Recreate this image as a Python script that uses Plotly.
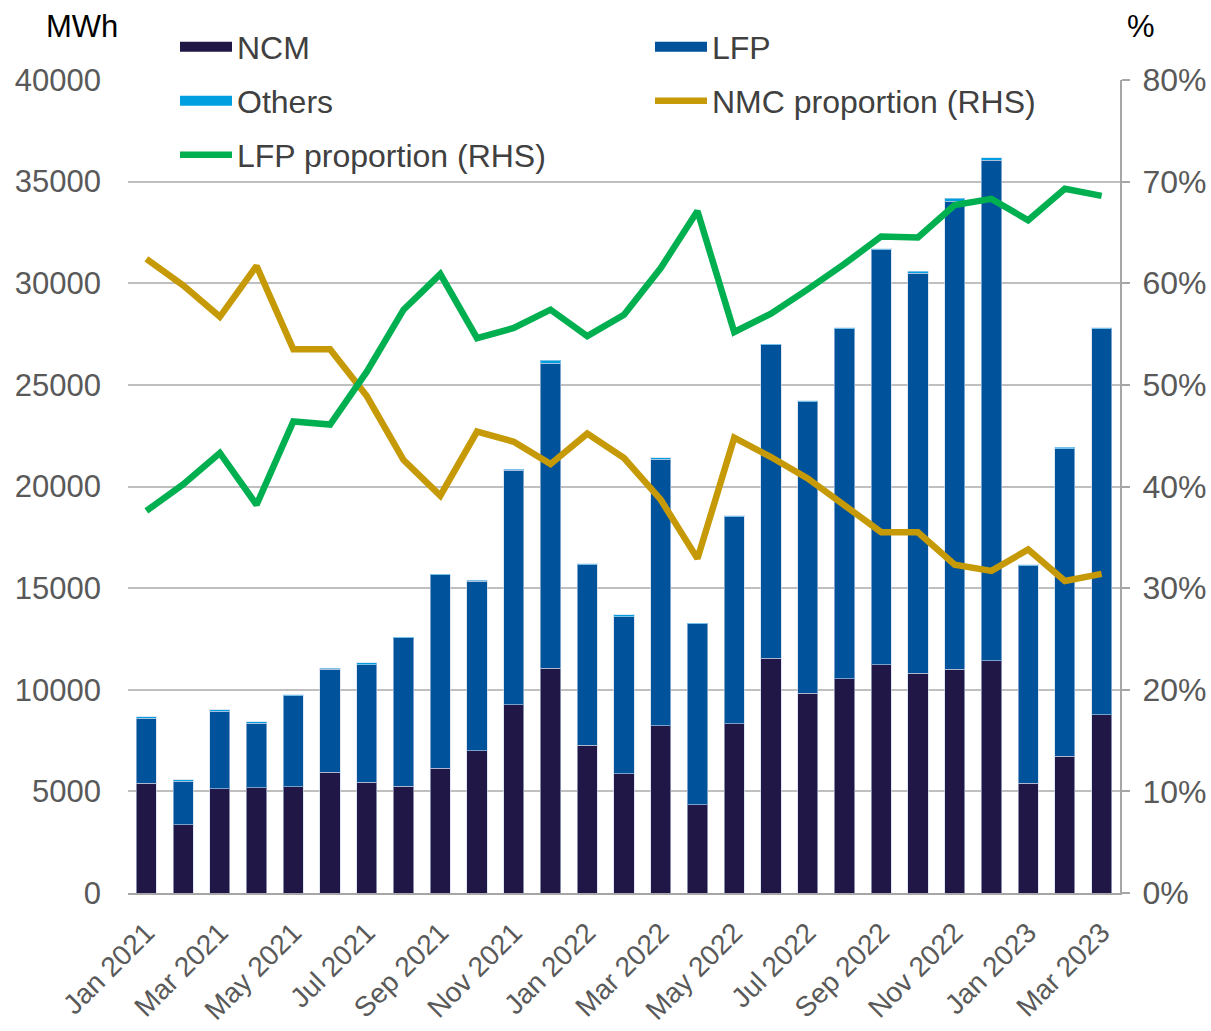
import plotly.graph_objects as go

months = ["Jan 2021", "Feb 2021", "Mar 2021", "Apr 2021", "May 2021", "Jun 2021",
          "Jul 2021", "Aug 2021", "Sep 2021", "Oct 2021", "Nov 2021", "Dec 2021",
          "Jan 2022", "Feb 2022", "Mar 2022", "Apr 2022", "May 2022", "Jun 2022",
          "Jul 2022", "Aug 2022", "Sep 2022", "Oct 2022", "Nov 2022", "Dec 2022",
          "Jan 2023", "Feb 2023", "Mar 2023"]
ncm = [5410, 3350, 5120, 5170, 5220, 5950, 5460, 5260, 6150, 6990, 9250, 11070,
       7280, 5860, 8220, 4330, 8320, 11560, 9840, 10530, 11220, 10820, 11020, 11420,
       5410, 6740, 8760]
lfp = [3200, 2160, 3830, 3170, 4490, 5060, 5780, 7290, 9500, 8360, 11560, 15000,
       8870, 7720, 13130, 8920, 10190, 15410, 14330, 17230, 20430, 19660, 23020, 24630,
       10690, 15120, 19000]
others = [50, 50, 60, 80, 40, 60, 80, 40, 40, 50, 50, 150,
          40, 100, 60, 30, 40, 40, 40, 40, 40, 120, 150, 120,
          40, 80, 40]
nmc_share = [62.4, 59.8, 56.7, 61.7, 53.5, 53.5, 48.9, 42.6, 39.1, 45.4, 44.4, 42.2,
             45.2, 42.8, 38.7, 32.9, 44.8, 42.9, 40.8, 38.2, 35.5, 35.5, 32.3, 31.7,
             33.8, 30.7, 31.4]
lfp_share = [37.6, 40.2, 43.3, 38.2, 46.4, 46.1, 51.3, 57.4, 60.9, 54.6, 55.6, 57.4,
             54.8, 56.9, 61.5, 67.1, 55.2, 57.0, 59.4, 61.9, 64.6, 64.5, 67.7, 68.3,
             66.2, 69.3, 68.6]
left_ticks = [0, 5000, 10000, 15000, 20000, 25000, 30000, 35000, 40000]
right_ticks = [0, 10, 20, 30, 40, 50, 60, 70, 80]

C_NCM = "#201747"
C_LFP = "#00529B"
C_OTH = "#009FDF"
C_NMCP = "#C59A06"
C_LFPP = "#00B050"
FONT = "Liberation Sans, Arial, sans-serif"
TXT = "#595959"

fig = go.Figure()
bar_line = dict(width=1, color="rgba(200,215,235,0.6)")
fig.add_trace(go.Bar(x=months, y=ncm, name="NCM", marker=dict(color=C_NCM, line=bar_line), showlegend=False))
fig.add_trace(go.Bar(x=months, y=lfp, name="LFP", marker=dict(color=C_LFP, line=bar_line), showlegend=False))
fig.add_trace(go.Bar(x=months, y=others, name="Others", marker=dict(color=C_OTH, line=bar_line), showlegend=False))
fig.add_trace(go.Scatter(x=months, y=nmc_share, name="NMC proportion (RHS)", mode="lines",
                         line=dict(color=C_NMCP, width=6.5), yaxis="y2", showlegend=False))
fig.add_trace(go.Scatter(x=months, y=lfp_share, name="LFP proportion (RHS)", mode="lines",
                         line=dict(color=C_LFPP, width=6.5), yaxis="y2", showlegend=False))

# legend entries, one legend box per entry (2 columns x 3 rows)
def leg(name, color, width, legend):
    fig.add_trace(go.Scatter(x=[None], y=[None], name=name, mode="lines",
                             line=dict(color=color, width=width), legend=legend,
                             showlegend=True, hoverinfo="skip"))

leg("NCM", C_NCM, 17, "legend")
leg("LFP", C_LFP, 17, "legend2")
leg("Others", C_OTH, 17, "legend3")
leg("NMC proportion (RHS)", C_NMCP, 6.5, "legend4")
leg("LFP proportion (RHS)", C_LFPP, 6.5, "legend5")

def legbox(px, py):
    return dict(xref="container", yref="container", x=px / 1211, y=1 - py / 1031,
                xanchor="left", yanchor="middle", orientation="v",
                font=dict(family=FONT, size=32, color="#404040"),
                bgcolor="rgba(0,0,0,0)", itemwidth=52)

col1, col2 = 175, 650
fig.update_layout(
    width=1211, height=1031,
    margin=dict(l=128, r=91, t=80, b=138, autoexpand=False),
    paper_bgcolor="white", plot_bgcolor="white",
    barmode="stack", bargap=0.45,
    font=dict(family=FONT, size=31, color=TXT),
    legend=legbox(col1, 47),
    legend2=legbox(col2, 47),
    legend3=legbox(col1, 101),
    legend4=legbox(col2, 101),
    legend5=legbox(col1, 155),
    xaxis=dict(type="category", tickmode="array", tickvals=months[::2], ticktext=months[::2],
               tickangle=-45, tickfont=dict(size=28, color=TXT), showgrid=False,
               showline=True, linecolor="#A6A6A6", linewidth=2, ticks="", zeroline=False,
               ticklabelstandoff=10),
    yaxis=dict(range=[0, 40000], tickvals=left_ticks, ticktext=[str(v) for v in left_ticks],
               showgrid=True, gridcolor="#BFBFBF", gridwidth=2, zeroline=False,
               showline=False, ticks="", ticklabelstandoff=26,
               tickfont=dict(size=31, color=TXT)),
    yaxis2=dict(range=[0, 80], overlaying="y", side="right", tickvals=right_ticks,
                ticktext=[f"{v}%" for v in right_ticks], showgrid=False, zeroline=False,
                showline=True, linecolor="#A6A6A6", linewidth=2, ticks="outside",
                ticklen=8, tickcolor="#A6A6A6", tickwidth=2, ticklabelstandoff=6,
                tickfont=dict(size=32, color=TXT)),
    annotations=[
        dict(text="MWh", xref="paper", yref="paper", x=(44 - 128) / 992, y=(893 - 27) / 813,
             showarrow=False, xanchor="left", yanchor="middle",
             font=dict(family=FONT, size=31, color="#000000")),
        dict(text="%", xref="paper", yref="paper", x=(1125 - 128) / 992, y=(893 - 27) / 813,
             showarrow=False, xanchor="left", yanchor="middle",
             font=dict(family=FONT, size=31, color="#000000")),
    ],
)

fig.write_html("out.html", config={"displayModeBar": False},
               post_script="document.body.style.margin='0';document.body.style.overflow='hidden';")
